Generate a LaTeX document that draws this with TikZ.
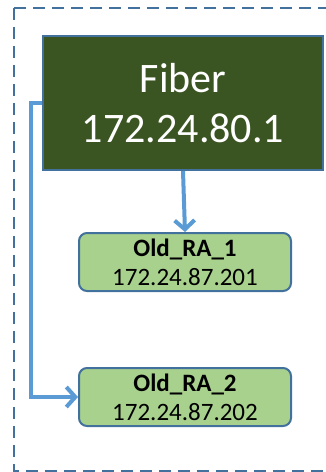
\documentclass[tikz,border=0pt]{standalone}
\usepackage{fontspec}
\setmainfont{Carlito}
\usetikzlibrary{arrows.meta}
\definecolor{bordblue}{HTML}{41719C}
\definecolor{arrblue}{HTML}{5B9BD5}
\definecolor{darkgr}{HTML}{3A5422}
\definecolor{lightgr}{HTML}{A9D18E}
\tikzset{
  ra/.style={draw=bordblue, line width=2pt, fill=lightgr, rounded corners=8pt, minimum width=212pt, minimum height=58pt, align=center, inner sep=0pt},
  conn/.style={draw=arrblue, line width=4pt, -{Straight Barb[length=9pt,width=20pt,line width=4pt]}},
}
\begin{document}
\begin{tikzpicture}[x=1pt,y=-1pt]
\path[use as bounding box] (0,0) rectangle (326,472);
\begin{scope}
\clip (0,0) rectangle (326,472);
\draw[bordblue, line width=2.2pt, dash pattern=on 12pt off 7pt] (14,8) -- (345,8) (14,8) -- (14,471) -- (345,471);
\end{scope}
\node[draw=bordblue, line width=2pt, fill=darkgr, minimum width=280pt, minimum height=134pt, text=white, align=center, inner sep=0pt, font=\fontsize{42}{50}\selectfont] (fiber) at (183,103) {Fiber\\172.24.80.1};
\node[ra, font=\fontsize{25}{29}\selectfont] (ra1) at (185,262) {\textbf{Old\_RA\_1}\\172.24.87.201};
\node[ra, font=\fontsize{25}{29}\selectfont] (ra2) at (185,397) {\textbf{Old\_RA\_2}\\172.24.87.202};
\draw[conn] (fiber.south) -- (ra1.north);
\coordinate (c1) at (31,103);
\coordinate (c2) at (31,397);
\draw[conn] (fiber.west) -- (c1) -- (c2) -- (ra2.west);
\end{tikzpicture}
\end{document}
